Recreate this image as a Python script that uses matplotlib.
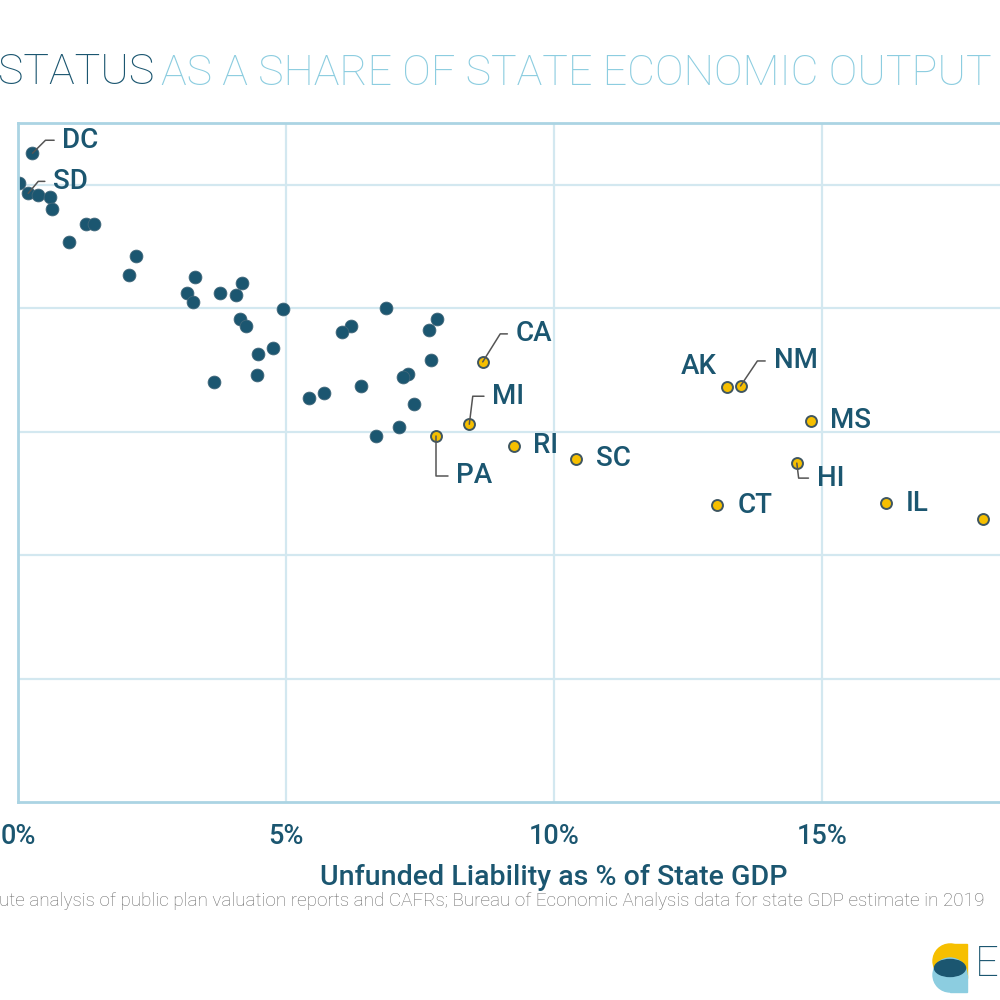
import matplotlib
matplotlib.use("Agg")
import matplotlib.pyplot as plt
from matplotlib.patches import Circle, Rectangle, Ellipse

# unfunded liability as % of state GDP (x) vs funded status (y)
dark_x = [0.27, 0.01, 0.19, 0.37, 0.60, 0.63, 1.27, 1.42, 0.96, 2.21,
          2.07, 3.30, 3.15, 3.26, 3.77, 4.18, 4.07, 4.94, 4.15, 4.25,
          4.76, 4.48, 4.46, 3.65, 5.42, 5.70, 6.87, 7.81, 7.66, 6.21,
          6.05, 7.70, 7.27, 7.19, 6.40, 7.39, 7.10, 6.67]
dark_y = [105.1, 100.2, 98.6, 98.3, 98.0, 96.1, 93.6, 93.7, 90.7, 88.4,
          85.4, 85.1, 82.5, 81.0, 82.5, 84.0, 82.1, 79.9, 78.2, 77.1,
          73.5, 72.6, 69.1, 68.0, 65.5, 66.3, 80.1, 78.3, 76.4, 77.1,
          76.2, 71.6, 69.4, 68.8, 67.4, 64.5, 60.7, 59.3]

hi_states = ["CA", "MI", "PA", "RI", "SC", "AK", "NM", "MS", "HI", "CT", "IL", ""]
hi_x = [8.67, 8.42, 7.80, 9.25, 10.41, 13.22, 13.48, 14.79, 14.53, 13.05, 16.20, 18.01]
hi_y = [71.3, 61.2, 59.3, 57.7, 55.6, 67.2, 67.4, 61.7, 54.9, 48.1, 48.4, 45.8]

x_ticks = [0, 5, 10, 15]
x_ticklabels = ["0%", "5%", "10%", "15%"]
y_ticks = [20, 40, 60, 80, 100]

DARK = "#1b5670"
LIGHT = "#8ccde0"
YELLOW = "#f6bf00"
GRID = "#d3e8f0"
SPINE = "#abd4e3"

plt.rcParams["font.family"] = ["Roboto", "DejaVu Sans"]

fig = plt.figure(figsize=(10, 10), dpi=100)
ax = fig.add_axes([0.018, 0.198, 1.072, 0.679])
ax.set_xlim(0, 20)
ax.set_ylim(0, 110)
ax.set_xticks(x_ticks)
ax.set_xticklabels(x_ticklabels)
ax.set_yticks(y_ticks)
ax.tick_params(axis="x", length=0, pad=15, labelsize=19.5, labelcolor=DARK)
ax.tick_params(axis="y", length=0, labelleft=False)
for lbl in ax.get_xticklabels():
    lbl.set_fontweight("medium")
ax.grid(True, color=GRID, lw=1.6)
ax.set_axisbelow(True)
for s in ax.spines.values():
    s.set_color(SPINE)
    s.set_linewidth(2)

ax.scatter(dark_x, dark_y, s=85, color=DARK, edgecolor="#41677a", lw=0.6, zorder=2)
ax.scatter(hi_x, hi_y, s=62, color=YELLOW, edgecolor="#3f5660", lw=1.4, zorder=2)

# label offsets in pixels, optional leader angle
labels = {
    "DC": (0.27, 105.1, 30, 13, 45),
    "SD": (0.19, 98.6, 25, 12, 50),
    "CA": (8.67, 71.3, 33, 28, 58),
    "MI": (8.42, 61.2, 23, 28, 83),
    "PA": (7.80, 59.3, 20, -40, 90),
    "RI": (9.25, 57.7, 19, 0, None),
    "SC": (10.41, 55.6, 20, 0, None),
    "AK": (13.22, 67.2, -10, 21, None),
    "NM": (13.48, 67.4, 33, 25, 56),
    "MS": (14.79, 61.7, 19, 1, None),
    "HI": (14.53, 54.9, 20, -15, -83),
    "CT": (13.05, 48.1, 20, 0, None),
    "IL": (16.20, 48.4, 19, 0, None),
}
for name, (x, y, dx, dy, ang) in labels.items():
    kw = {}
    if ang is not None:
        kw["arrowprops"] = dict(arrowstyle="-", color="#555555", lw=1.1,
                                shrinkA=4, shrinkB=0, relpos=(0, 0.5),
                                connectionstyle=f"angle,angleA=0,angleB={ang},rad=0")
    ax.annotate(name, (x, y), xytext=(dx, dy), textcoords="offset pixels",
                ha="right" if dx < 0 else "left", va="center",
                fontsize=20, fontweight="medium", color=DARK, zorder=4, **kw)

ax.xaxis.set_label_coords(0.483, -0.091)
ax.set_xlabel("Unfunded Liability as % of State GDP", fontsize=20.5,
              fontweight="medium", color=DARK)

# title (cropped)
fig.text(-0.002, 0.927, "STATUS", fontsize=31, fontweight="light",
         color=DARK, va="center", ha="left")
fig.text(0.161, 0.927, "AS A SHARE OF STATE ECONOMIC OUTPUT", fontsize=31,
         fontweight="light", color=LIGHT, va="center", ha="left")

fig.text(-0.001, 0.0985,
         "ute analysis of public plan valuation reports and CAFRs; "
         "Bureau of Economic Analysis data for state GDP estimate in 2019",
         fontsize=13.6, fontweight="light", color="#6b6b6b", va="center", ha="left")

# logo mark
def px(x, y):
    return x / 1000, 1 - y / 1000

fig.patches.append(Circle(px(950, 961), 0.017, color=YELLOW, transform=fig.transFigure))
fig.patches.append(Rectangle(px(950, 978), 0.017, 0.034, color=YELLOW, transform=fig.transFigure))
fig.patches.append(Circle(px(950, 975), 0.017, color="#8ccde0", transform=fig.transFigure))
fig.patches.append(Rectangle(px(950, 992), 0.017, 0.017, color="#8ccde0", transform=fig.transFigure))
fig.patches.append(Ellipse(px(950, 968), 0.031, 0.017, color=DARK, transform=fig.transFigure))
fig.text(0.975, 0.035, "E", fontsize=30, fontweight="light", color=DARK,
         va="center", ha="left")

fig.savefig("out.png", dpi=100)
